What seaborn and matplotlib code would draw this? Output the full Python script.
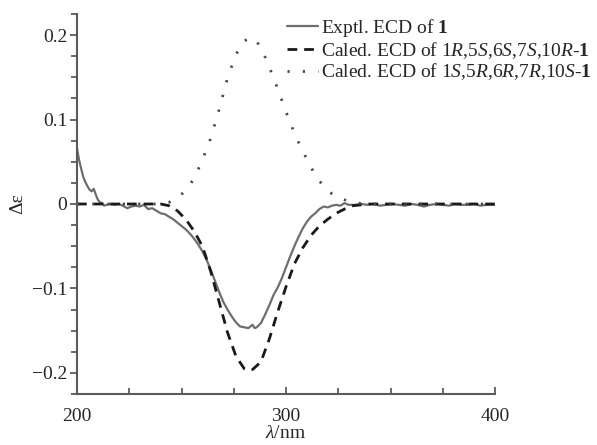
import pandas as pd
import seaborn as sns; sns.set_style("white")
import matplotlib.pyplot as plt
from matplotlib.ticker import MultipleLocator

# experimental ECD of 1
wl_exp = [200, 201, 202, 203, 204, 205, 206, 207, 208, 209, 210, 211, 212, 213, 214, 216, 218, 220,
          222, 224, 226, 228, 230, 232, 234, 236, 238, 240, 242, 244, 246, 248, 250, 252, 254, 256,
          258, 260, 262, 264, 266, 268, 270, 272, 274, 276, 278, 280, 282, 284, 285, 286, 288, 290,
          292, 294, 296, 298, 300, 302, 304, 306, 308, 310, 312, 314, 316, 318, 320, 322, 324, 326,
          328, 330, 333, 336, 339, 342, 345, 348, 351, 354, 357, 360, 363, 366, 369, 372, 375, 378,
          381, 384, 387, 390, 393, 396, 400]
de_exp = [0.066, 0.052, 0.042, 0.032, 0.026, 0.021, 0.017, 0.015, 0.018, 0.011, 0.005, 0.002, 0.001,
          -0.002, -0.001, 0.000, -0.001, 0.000, -0.002, -0.005, -0.003, -0.002, -0.003, -0.001, -0.006,
          -0.005, -0.008, -0.011, -0.012, -0.015, -0.018, -0.022, -0.026, -0.030, -0.035, -0.041,
          -0.048, -0.056, -0.066, -0.078, -0.091, -0.104, -0.116, -0.125, -0.133, -0.140, -0.145,
          -0.146, -0.147, -0.143, -0.147, -0.146, -0.141, -0.131, -0.120, -0.108, -0.099, -0.088,
          -0.075, -0.062, -0.050, -0.039, -0.029, -0.021, -0.015, -0.011, -0.006, -0.003, -0.004,
          -0.002, -0.001, -0.002, 0.001, -0.001, -0.001, 0.000, -0.001, 0.000, -0.002, -0.001, 0.000,
          -0.001, -0.002, 0.000, -0.001, -0.003, -0.001, 0.000, -0.001, -0.002, 0.000, -0.001, -0.001,
          0.000, -0.002, -0.001, -0.001]

# calculated ECD of 1R,5S,6S,7S,10R-1
wl_calc_a = [200, 240, 244, 248, 252, 256, 260, 264, 268, 272, 276, 280, 282, 284, 288, 292, 296,
             300, 304, 308, 312, 316, 320, 324, 328, 332, 336, 340, 400]
de_calc_a = [0.0, 0.0, -0.002, -0.008, -0.018, -0.032, -0.050, -0.080, -0.116, -0.152, -0.180,
             -0.195, -0.197, -0.196, -0.187, -0.160, -0.128, -0.098, -0.071, -0.052, -0.037,
             -0.026, -0.018, -0.011, -0.006, -0.002, -0.001, 0.0, 0.0]

# calculated ECD of 1S,5R,6R,7R,10S-1
wl_calc_b = [200, 240, 244, 248, 252, 256, 260, 264, 268, 272, 276, 280, 283, 286, 290, 294, 298,
             302, 306, 310, 314, 318, 322, 326, 330, 334, 340, 400]
de_calc_b = [0.0, 0.0, 0.002, 0.007, 0.016, 0.030, 0.052, 0.078, 0.112, 0.149, 0.177, 0.193,
             0.197, 0.193, 0.174, 0.150, 0.123, 0.096, 0.073, 0.053, 0.034, 0.021, 0.012, 0.007,
             0.003, 0.001, 0.0, 0.0]

labels = [r"Exptl. ECD of $\mathbf{1}$",
          r"Caled. ECD of 1$\mathit{R}$,5$\mathit{S}$,6$\mathit{S}$,7$\mathit{S}$,10$\mathit{R}$-$\mathbf{1}$",
          r"Caled. ECD of 1$\mathit{S}$,5$\mathit{R}$,6$\mathit{R}$,7$\mathit{R}$,10$\mathit{S}$-$\mathbf{1}$"]

plt.rcParams['font.family'] = ['Liberation Serif', 'DejaVu Serif']
plt.rcParams['mathtext.fontset'] = 'custom'
plt.rcParams['mathtext.rm'] = 'Liberation Serif'
plt.rcParams['mathtext.it'] = 'Liberation Serif:italic'
plt.rcParams['mathtext.bf'] = 'Liberation Serif:bold'

fig = plt.figure(figsize=(5.97, 4.45), dpi=100)
ax = fig.add_axes([77 / 597, 1 - 394 / 445, 418 / 597, 380 / 445])

sns.lineplot(x=wl_exp, y=de_exp, ax=ax, color='#6e6e6e', lw=1.6, label=labels[0])
sns.lineplot(x=wl_calc_a, y=de_calc_a, ax=ax, color='#1a1a1a', lw=2.0, label=labels[1])
sns.lineplot(x=wl_calc_b, y=de_calc_b, ax=ax, color='#4a4a4a', lw=2.0, label=labels[2])
ax.lines[1].set_dashes([3.5, 2.5])
ax.lines[2].set_dashes([0.8, 4.7])

ax.set_xlim(200, 400)
ax.set_ylim(-0.225, 0.225)
ax.xaxis.set_major_locator(MultipleLocator(100))
ax.xaxis.set_minor_locator(MultipleLocator(25))
ax.yaxis.set_major_locator(MultipleLocator(0.1))
ax.yaxis.set_minor_locator(MultipleLocator(0.025))
ax.set_yticks([-0.2, -0.1, 0, 0.1, 0.2])
ax.set_yticklabels(['\u22120.2', '\u22120.1', '0', '0.1', '0.2'])

for side in ['top', 'right']:
    ax.spines[side].set_visible(False)
for side in ['left', 'bottom']:
    ax.spines[side].set_color('#5a5a5a')
    ax.spines[side].set_linewidth(1.5)

ax.tick_params(axis='y', which='both', direction='out', left=True, color='#5a5a5a',
               width=1.3, labelsize=14, pad=2)
ax.tick_params(axis='y', which='major', length=5)
ax.tick_params(axis='y', which='minor', length=4)
ax.tick_params(axis='x', which='both', direction='in', bottom=True, color='#5a5a5a',
               width=1.3, labelsize=14, pad=10)
ax.tick_params(axis='x', which='major', length=5)
ax.tick_params(axis='x', which='minor', length=4)

ax.set_xlabel(r"$\lambda$/nm", fontsize=14, labelpad=0)
ax.set_ylabel("\u0394\u03b5", fontsize=14, labelpad=4)

leg = ax.legend(loc='upper left', bbox_to_anchor=(287 / 597, 0.962), bbox_transform=fig.transFigure,
                frameon=False, fontsize=14, handlelength=1.6, handletextpad=0.15,
                labelspacing=0.05, borderpad=0, borderaxespad=0)

fig.savefig('out.png', dpi=100)
